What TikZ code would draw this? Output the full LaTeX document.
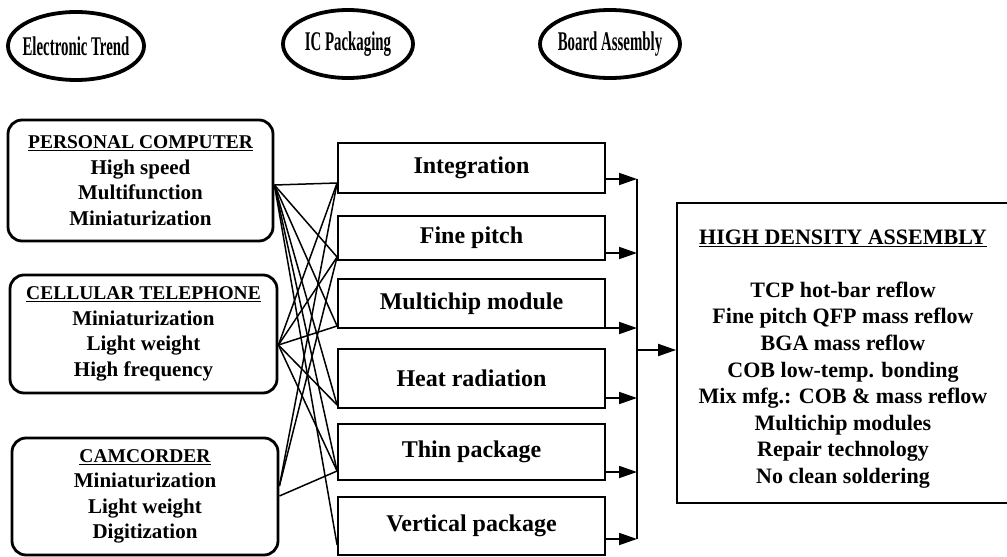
\documentclass[tikz,border=0pt]{standalone}
\usepackage{fontspec}
\setmainfont{Liberation Serif}
\usetikzlibrary{arrows.meta,shapes.geometric}
\newcommand{\cond}[1]{\makebox[0pt][c]{\scalebox{0.55}[1]{#1}}}
\begin{document}
\begin{tikzpicture}[x=1pt,y=-1pt,
  hdr/.style={ellipse, draw, line width=3.8pt, minimum height=68pt, inner sep=0pt,
    font=\fontsize{27}{27}\selectfont\bfseries},
  trend/.style={draw, rounded corners=14pt, line width=2.8pt, align=center, inner sep=0pt,
    font=\fontsize{21}{25.5}\selectfont\bfseries},
  pkg/.style={draw, line width=1.8pt, minimum width=267pt, inner sep=0pt,
    font=\fontsize{24}{24}\selectfont\bfseries},
  link/.style={line width=1.5pt},
  arr/.style={line width=1.8pt, -{Triangle[length=18pt,width=12pt]}}]
\useasboundingbox (0,0) rectangle (1007,557);
\clip (0,0) rectangle (1007,557);

% header ellipses
\node[hdr, minimum width=136pt] (et) at (76,46) {\cond{Electronic Trend}};
\node[hdr, minimum width=130pt] (ic) at (348,44) {\cond{IC Packaging}};
\node[hdr, minimum width=140pt] (ba) at (610,44) {\cond{Board Assembly}};

% trend boxes
\node[trend, minimum width=265pt, minimum height=121pt] (pc) at (140.5,180.5)
  {{\fontsize{19.5}{25.5}\selectfont\underline{PERSONAL COMPUTER}}\\High speed\\Multifunction\\Miniaturization};
\node[trend, minimum width=267pt, minimum height=118pt] (cell) at (143.5,334)
  {{\fontsize{19.5}{25.5}\selectfont\underline{CELLULAR TELEPHONE}}\\Miniaturization\\Light weight\\High frequency};
\node[trend, minimum width=266pt, minimum height=117pt] (cam) at (145,496.5)
  {{\fontsize{19.5}{25.5}\selectfont\underline{CAMCORDER}}\\Miniaturization\\Light weight\\Digitization};

% packaging boxes
\node[pkg, minimum height=50pt] (int) at (471.5,168) {Integration};
\node[pkg, minimum height=44pt] (fin) at (471.5,238) {Fine pitch};
\node[pkg, minimum height=49pt] (mcm) at (471.5,303.5) {Multichip module};
\node[pkg, minimum height=59pt] (heat) at (471.5,378.5) {Heat radiation};
\node[pkg, minimum height=56pt] (thin) at (471.5,452) {Thin package};
\node[pkg, minimum height=58pt] (vert) at (471.5,526) {Vertical package};

% high density box
\node[draw, line width=1.8pt, minimum width=333pt, minimum height=300pt, inner sep=0pt] (hd) at (843.5,353) {};
\node[align=center, inner sep=0pt, font=\fontsize{22}{26.6}\selectfont\bfseries] (hdt) at (843,359)
  {\underline{HIGH DENSITY ASSEMBLY}\\[26.6pt]TCP hot-bar reflow\\Fine pitch QFP mass reflow\\BGA mass reflow\\COB low-temp. bonding\\Mix mfg.: COB \& mass reflow\\Multichip modules\\Repair technology\\No clean soldering};

% connector end points
\coordinate (pcO) at (pc.east |- 0,185);
\coordinate (ceO) at (cell.east |- 0,345);
\coordinate (caO) at (cam.east |- 0,486);
\coordinate (caP) at (cam.east |- 0,496);
\coordinate (iI) at (int.west |- 0,183);
\coordinate (iF) at (fin.west |- 0,257);
\coordinate (iM) at (mcm.west |- 0,326);
\coordinate (iH) at (heat.west |- 0,405);
\coordinate (iT) at (thin.west |- 0,471);
\coordinate (iV) at (vert.west |- 0,545);

\foreach \t in {iI,iF,iM,iH,iT,iV} \draw[link] (pcO) -- (\t);
\foreach \t in {iI,iF,iM,iH,iT} \draw[link] (ceO) -- (\t);
\foreach \t in {iI,iF} \draw[link] (caO) -- (\t);
\draw[link] (caP) -- (iT);

% bus
\coordinate (b1) at (637,179);
\coordinate (b2) at (637,253);
\coordinate (b3) at (637,328);
\coordinate (b4) at (637,398);
\coordinate (b5) at (637,472);
\coordinate (b6) at (637,539);
\coordinate (bm) at (637,350);
\draw[line width=1.8pt] (b1) -- (b6);
\draw[arr] (int.east |- b1) -- (b1);
\draw[arr] (fin.east |- b2) -- (b2);
\draw[arr] (mcm.east |- b3) -- (b3);
\draw[arr] (heat.east |- b4) -- (b4);
\draw[arr] (thin.east |- b5) -- (b5);
\draw[arr] (vert.east |- b6) -- (b6);
\draw[arr] (bm) -- (hd.west |- bm);
\end{tikzpicture}
\end{document}
